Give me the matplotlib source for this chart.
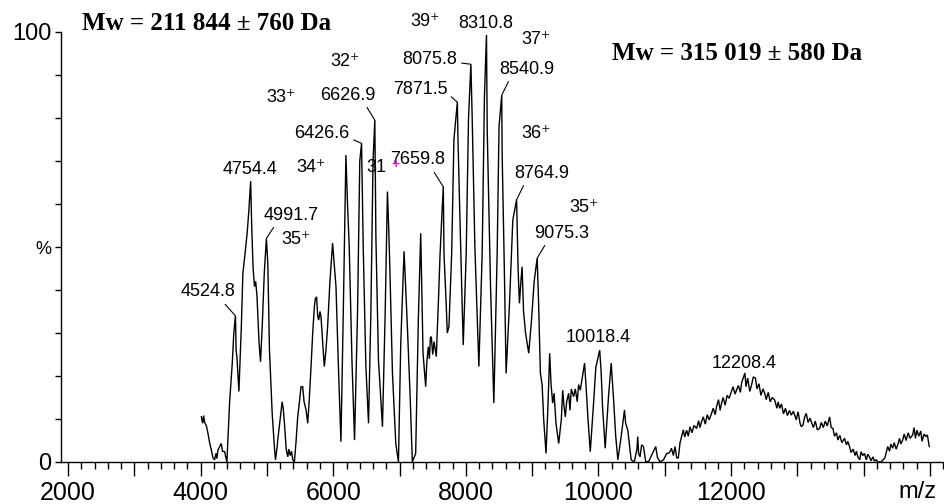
import numpy as np
import matplotlib
matplotlib.use("Agg")
import matplotlib.pyplot as plt
from matplotlib.ticker import MultipleLocator, FixedLocator

# ---------------- data ----------------
mz = [4011, 4030, 4045, 4060, 4085, 4110, 4135, 4161, 4185, 4211, 4230, 4245, 4261, 4285, 4311,
      4330, 4361, 4396, 4436, 4477, 4500, 4524.8, 4535, 4547, 4577, 4612, 4637, 4670, 4700, 4725,
      4754.4, 4770, 4790, 4812, 4830, 4850, 4880, 4903, 4930, 4960, 4991.7, 5013, 5038, 5079, 5110,
      5128, 5150, 5163, 5200, 5229, 5245, 5264, 5290, 5314, 5330, 5350, 5370, 5390, 5414, 5440,
      5464, 5490, 5514, 5539, 5560, 5590, 5615, 5640, 5665, 5690, 5715, 5730, 5749, 5765, 5780,
      5800, 5815, 5840, 5865, 5890, 5915, 5950, 5990, 6010, 6041, 6081, 6116, 6151, 6191, 6215,
      6241, 6282, 6321, 6366, 6400, 6426.6, 6452, 6492, 6532, 6567, 6600, 6626.9, 6643, 6682, 6742,
      6783, 6817, 6835, 6853, 6893, 6943, 6983, 7018, 7068, 7118, 7160, 7193, 7243, 7283, 7319,
      7335, 7354, 7394, 7410, 7434, 7450, 7465, 7479, 7500, 7520, 7554, 7585, 7610, 7640, 7659.8,
      7670, 7705, 7720, 7745, 7786, 7820, 7871.5, 7880, 7915, 7960, 8005, 8040, 8075.8, 8096, 8136,
      8196, 8246, 8280, 8310.8, 8322, 8372, 8422, 8472, 8500, 8540.9, 8547, 8580, 8607, 8658, 8708,
      8764.9, 8788, 8808, 8830, 8848, 8870, 8900, 8948, 8990, 9030, 9075.3, 9095, 9124, 9150, 9174,
      9209, 9240, 9264, 9285, 9309, 9330, 9359, 9400, 9440, 9460, 9480, 9500, 9520, 9550, 9570,
      9590, 9625, 9650, 9680, 9700, 9726, 9760, 9790, 9815, 9840, 9876, 9926, 9960, 10018.4, 10040,
      10061, 10101, 10151, 10192, 10231, 10260, 10292, 10342, 10392, 10410, 10442, 10493, 10540, 10580, 10592,
      10605, 10627, 10650, 10678, 10713, 10760, 10800, 10830, 10863, 10890, 10929, 10980, 11030, 11054, 11079,
      11100, 11130, 11154, 11180, 11204, 11230, 11254, 11280, 11300, 11329, 11355, 11380, 11410, 11440, 11480,
      11510, 11530, 11555, 11580, 11610, 11640, 11670, 11705, 11730, 11760, 11781, 11810, 11835, 11856, 11880,
      11910, 11940, 11970, 12006, 12030, 12060, 12081, 12110, 12140, 12160, 12208.4, 12225, 12250, 12282, 12310,
      12335, 12367, 12390, 12420, 12450, 12480, 12507, 12530, 12560, 12590, 12620, 12658, 12690, 12710, 12733,
      12760, 12790, 12820, 12850, 12880, 12908, 12940, 12983, 13010, 13040, 13059, 13084, 13110, 13134, 13160,
      13190, 13209, 13240, 13270, 13300, 13335, 13360, 13390, 13420, 13450, 13486, 13510, 13536, 13560, 13590,
      13610, 13640, 13670, 13711, 13740, 13760, 13786, 13810, 13840, 13870, 13890, 13911, 13940, 13960, 13986,
      14010, 14040, 14060, 14087, 14110, 14140, 14160, 14187, 14220, 14262, 14290, 14320, 14362, 14390, 14410,
      14437, 14460, 14490, 14513, 14540, 14560, 14588, 14610, 14640, 14670, 14700, 14738, 14760, 14780, 14803,
      14830, 14860, 14880, 14910, 14939, 14960, 14989]

intensity = [10.5, 9.0, 10.8, 9.2, 8.5, 6.7, 4.5, 2.8, 1.0, 0.5, 2.0, 0.8, 2.8, 3.5, 4.3,
             2.5, 2.4, 0.0, 13.7, 23.0, 30.0, 34.0, 26.0, 24.5, 16.4, 30.7, 43.9, 48.5, 53.0, 58.0,
             65.3, 55.0, 45.4, 40.8, 42.0, 38.5, 28.0, 23.3, 32.0, 44.0, 52.0, 46.2, 26.0, 11.3, 4.0,
             0.5, 3.0, 5.1, 10.0, 14.0, 12.5, 9.0, 3.0, 1.2, 3.0, 1.5, 2.5, 0.5, 0.0, 5.0,
             10.5, 14.0, 17.5, 17.5, 14.0, 12.1, 9.0, 15.0, 22.2, 30.0, 36.1, 38.0, 38.4, 34.0, 33.0,
             35.0, 33.8, 28.0, 22.2, 26.0, 31.5, 42.0, 50.9, 47.0, 40.8, 20.6, 4.7, 34.6, 71.4, 60.0,
             50.0, 23.7, 5.1, 34.6, 70.0, 74.1, 50.0, 22.2, 9.0, 34.6, 70.0, 79.5, 52.4, 23.7, 8.2,
             34.6, 62.9, 55.0, 45.4, 20.6, 4.3, 0.0, 27.6, 49.0, 31.5, 15.0, 0.0, 2.0, 33.0, 53.2,
             40.0, 25.3, 17.5, 23.0, 26.8, 24.0, 29.0, 29.1, 25.0, 28.0, 24.5, 36.9, 48.0, 58.0, 64.0,
             48.5, 36.1, 30.0, 31.5, 48.5, 75.0, 83.7, 75.7, 54.0, 27.2, 48.5, 80.0, 92.5, 79.5, 50.0,
             22.2, 48.5, 85.0, 99.3, 77.2, 40.8, 13.7, 48.5, 78.0, 85.3, 71.8, 45.0, 20.6, 36.9, 56.3,
             61.0, 44.7, 36.9, 42.0, 45.4, 35.0, 30.0, 25.3, 33.0, 42.0, 47.4, 38.0, 20.6, 18.0, 9.8,
             2.0, 14.0, 25.3, 18.0, 13.7, 16.0, 9.0, 4.3, 10.0, 16.7, 13.0, 10.5, 14.0, 16.0, 12.0,
             17.0, 15.2, 17.0, 14.0, 18.0, 16.7, 20.0, 23.0, 17.0, 10.5, 2.4, 13.7, 22.0, 26.0, 21.0,
             12.9, 3.2, 15.2, 23.0, 13.7, 6.0, 0.5, 5.9, 12.1, 9.0, 7.4, 0.5, 0.0, 3.0, 5.9,
             2.0, 1.2, 4.0, 3.6, 0.0, 0.2, 1.5, 2.5, 3.6, 1.0, 0.0, 0.5, 2.0, 2.0, 2.4,
             3.2, 1.5, 3.6, 1.0, 0.9, 4.5, 5.9, 7.5, 5.8, 7.4, 6.0, 8.2, 6.8, 8.5, 7.8,
             9.6, 8.0, 9.4, 10.5, 8.8, 11.0, 9.8, 11.3, 12.5, 11.0, 12.9, 14.5, 12.0, 13.7, 15.0,
             13.2, 15.5, 14.8, 16.4, 17.5, 15.8, 16.7, 17.8, 16.2, 18.5, 20.7, 17.5, 19.5, 16.4, 18.0,
             19.8, 19.5, 17.0, 18.2, 15.5, 17.0, 16.0, 14.5, 16.2, 14.0, 15.0, 14.4, 12.5, 14.0, 12.5,
             13.5, 11.2, 12.5, 10.8, 12.0, 10.9, 11.8, 9.8, 11.7, 9.0, 8.2, 8.6, 10.5, 11.3, 9.2,
             10.2, 9.4, 8.0, 9.5, 7.5, 7.8, 9.2, 8.0, 9.5, 8.4, 10.5, 8.0, 7.8, 6.0, 6.8,
             5.1, 6.2, 4.5, 5.5, 4.0, 4.8, 3.6, 2.2, 3.0, 1.5, 2.5, 1.2, 0.5, 2.4, 1.5,
             2.0, 0.5, 1.8, 1.2, 0.3, 1.2, 0.2, 0.5, 0.0, 0.0, 0.5, 1.0, 3.6, 2.5, 4.2,
             3.2, 4.5, 3.0, 4.0, 5.5, 4.2, 5.1, 6.5, 5.0, 6.8, 5.5, 6.3, 8.0, 5.5, 7.4,
             6.0, 7.2, 4.8, 6.5, 5.9, 6.3, 3.6]

# labelled peaks (m/z values printed in the reference)
peak_labels = ["4524.8", "4754.4", "4991.7", "6426.6", "6626.9", "7659.8", "7871.5",
               "8075.8", "8310.8", "8540.9", "8764.9", "9075.3", "10018.4", "12208.4"]
# charge-state labels
charge_labels = ["35", "34", "33", "32", "39", "37", "36", "35"]
mw_labels = ["Mw = 211 844 \u00b1 760 Da", "Mw = 315 019 \u00b1 580 Da"]
x_tick_labels = ["2000", "4000", "6000", "8000", "10000", "12000"]

# ---------------- layout helpers ----------------
W, H = 945, 504
X0, X1 = 1894, 15226          # x-limits of the axis
def px2data(px, py):
    return X0 + (px - 61) * (X1 - X0) / (945 - 61), (462 - py) / 4.30

SANS = ["Liberation Sans", "DejaVu Sans"]
SERIF = ["Liberation Serif", "DejaVu Serif"]

fig = plt.figure(figsize=(W / 100, H / 100), dpi=100)
ax = fig.add_axes([61 / W, 42 / H, (W - 61) / W, 430 / H])
ax.plot(mz, intensity, color="black", lw=1.0, solid_joinstyle="miter")
ax.set_xlim(X0, X1)
ax.set_ylim(0, 100)

for s in ("top", "right"):
    ax.spines[s].set_visible(False)
for s in ("left", "bottom"):
    ax.spines[s].set_linewidth(1.0)
    ax.spines[s].set_color("black")

# x ticks
xt = np.arange(2000, 16000, 1000)
ax.xaxis.set_major_locator(FixedLocator(xt))
ax.xaxis.set_minor_locator(MultipleLocator(200))
ax.set_xticklabels([str(int(v)) if str(int(v)) in x_tick_labels else "" for v in xt],
                   fontsize=18, family=SANS)
ax.tick_params(axis="x", which="major", direction="out", length=10, width=1, pad=4)
ax.tick_params(axis="x", which="minor", direction="out", length=5, width=1)

# y ticks
ax.yaxis.set_major_locator(FixedLocator(np.arange(0, 101, 10)))
ylabs = ["0", "", "", "", "", "%", "", "", "", "", "100"]
ax.set_yticklabels(ylabs, fontsize=17, family=SANS)
ax.tick_params(axis="y", which="major", direction="out", length=4, width=1, pad=3)
for t in ax.get_yticklabels():
    if t.get_text() == "%":
        t.set_fontsize(13)

fig.text(898 / W, (H - 481) / H, "m/z", fontsize=17, family=SANS, ha="left", va="top")

# ---------------- peak annotations ----------------
# label centre (px) and leader start on the text bbox (relpos) or None
ann = {
    "4524.8": ((208, 292), (0.75, 0.0)),
    "4754.4": ((250, 170), None),
    "4991.7": ((291, 215), (0.23, 0.0)),
    "6426.6": ((322, 133), (1.0, 0.2)),
    "6626.9": ((348, 95), (0.8, 0.0)),
    "7659.8": ((418, 160), (0.75, 0.0)),
    "7871.5": ((420, 90), (1.0, 0.3)),
    "8075.8": ((430, 60), (1.0, 0.35)),
    "8310.8": ((486, 23), None),
    "8540.9": ((527, 69), (0.2, 0.0)),
    "8764.9": ((542, 173), (0.2, 0.0)),
    "9075.3": ((562, 233), (0.23, 0.0)),
    "10018.4": ((598, 338), None),
    "12208.4": ((744, 363), None),
}
for lab in peak_labels:
    (px, py), rel = ann[lab]
    tx, ty = px2data(px, py)
    pmz = float(lab)
    pint = float(np.interp(pmz, mz, intensity))
    if rel is None:
        ax.text(tx, ty, lab, fontsize=13, family=SANS, ha="center", va="center",
                clip_on=False)
    else:
        ax.annotate(lab, xy=(pmz, pint), xytext=(tx, ty), fontsize=13, family=SANS,
                    ha="center", va="center", annotation_clip=False,
                    arrowprops=dict(arrowstyle="-", color="black", lw=0.8,
                                    relpos=rel, shrinkA=1, shrinkB=0))

charge_pos = [(296, 240), (311, 168), (281, 97), (345, 62), (425, 22), (536, 40),
              (536, 133), (584, 207)]
for lab, (px, py) in zip(charge_labels, charge_pos):
    tx, ty = px2data(px, py)
    ax.text(tx, ty, lab + "\u207a", fontsize=13, family=SANS, ha="center", va="center",
            clip_on=False)

# "31+" with magenta plus
tx, ty = px2data(376, 168)
ax.text(tx, ty, "31", fontsize=13, family=SANS, ha="center", va="center", clip_on=False)
tx, ty = px2data(396, 164)
ax.text(tx, ty, "+", fontsize=10, family=SANS, fontweight="bold", ha="center",
        va="center", color="#e020e0", clip_on=False)

# Mw annotations
for lab, (px, py) in zip(mw_labels, [(207, 24), (737, 53)]):
    tx, ty = px2data(px, py)
    ax.text(tx, ty, lab, fontsize=18, family=SERIF, fontweight="bold", ha="center",
            va="center", clip_on=False)

fig.savefig("out.png", dpi=100, facecolor="white")
